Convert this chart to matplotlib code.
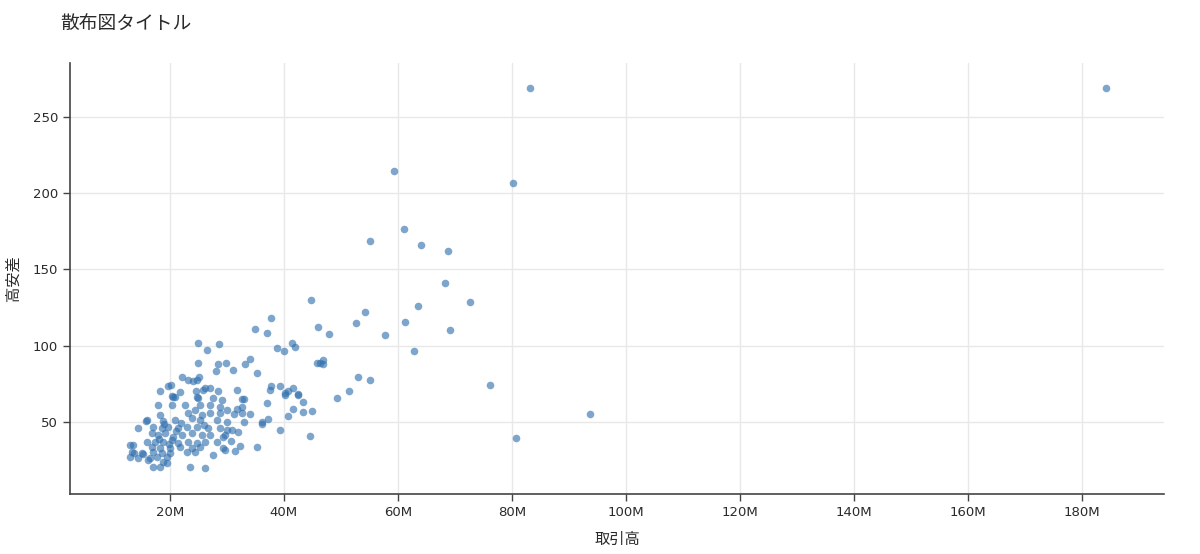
import numpy as np
import matplotlib
matplotlib.use("Agg")
import matplotlib.pyplot as plt
from matplotlib.ticker import FuncFormatter

plt.rcParams['font.family'] = ['Noto Sans CJK JP', 'DejaVu Sans']

title = "散布図タイトル"
x_label = "取引高"
y_label = "高安差"

# 取引高 (millions) and 高安差
volume_m = [
    20.5, 24.7, 27.5, 29.1, 17.9, 20.4, 22.6, 25.3, 27.0, 28.8,
    18.2, 23.2, 24.4, 25.6, 27.0, 28.8, 30.0, 16.0, 18.8, 20.9,
    23.9, 25.3, 28.2, 30.0, 14.4, 17.0, 18.6, 19.6, 21.4, 23.0,
    24.7, 26.7, 28.8, 30.0, 16.8, 17.9, 19.1, 20.5, 22.1, 23.9,
    25.6, 27.0, 29.3, 16.0, 17.4, 18.8, 20.4, 21.4, 23.2, 24.7,
    26.1, 28.2, 13.0, 13.5, 16.8, 18.2, 20.0, 21.8, 23.9, 25.3,
    29.3, 13.3, 15.1, 17.0, 18.6, 20.0, 23.0, 24.4, 13.0, 14.4,
    16.5, 17.7, 19.5, 27.5, 16.1, 18.8, 17.0, 18.2, 23.5, 26.1,
    19.5, 15.8, 13.7, 15.3, 19.0, 21.0, 22.0, 26.0, 18.0, 19.8,
    32.6, 33.0, 37.0, 40.2, 42.5, 43.3, 31.8, 32.6, 32.6, 34.0,
    31.2, 41.6, 43.3, 44.9, 40.7, 37.2, 36.1, 36.1, 33.0, 30.9,
    31.9, 39.3, 29.6, 44.6, 30.7, 32.3, 35.3, 31.4, 29.6,
    34.9, 24.9, 28.6, 26.5, 24.9, 28.4, 29.8, 33.2, 34.0, 28.1,
    31.1, 35.3, 22.1, 23.2, 24.0, 24.7, 25.1, 19.6, 20.2, 18.2,
    21.8, 24.6, 26.1, 27.0, 25.8, 28.4, 31.8, 20.4, 20.9, 24.9,
    37.0, 46.0, 52.6, 47.9, 41.4, 41.9, 38.8, 40.0, 45.8, 46.3,
    46.8, 46.8, 53.0, 37.7, 37.5, 39.3, 40.7, 40.2, 41.6, 42.5,
    51.4, 49.3, 37.7, 55.1,
    83.2, 184.2, 59.3, 80.2, 55.1, 61.1, 64.0, 68.8, 68.2, 72.6,
    63.5, 44.7, 54.2, 61.2, 69.1, 57.7, 62.8, 76.1, 93.7, 80.7,
]
high_low = [
    66.5, 66.5, 65.7, 64.4, 61.2, 61.2, 61.2, 61.2, 61.2, 59.8,
    54.6, 55.9, 57.9, 54.6, 55.9, 55.9, 57.9, 51.3, 50.7, 51.3,
    52.6, 51.3, 51.3, 50.0, 46.1, 46.7, 46.1, 46.7, 46.1, 46.7,
    46.7, 46.1, 46.1, 44.8, 42.8, 41.5, 42.8, 40.2, 41.5, 42.8,
    41.5, 41.5, 40.2, 36.9, 36.9, 36.9, 38.2, 36.2, 36.9, 36.2,
    36.9, 36.9, 34.9, 34.9, 33.6, 33.0, 33.0, 33.6, 33.0, 33.6,
    33.0, 30.3, 29.7, 30.3, 29.7, 29.7, 30.3, 30.3, 27.1, 26.4,
    26.4, 27.1, 27.1, 28.4, 25.1, 23.8, 20.5, 20.5, 20.5, 19.9,
    23.1, 50.7, 29.7, 29.1, 48.5, 44.0, 49.5, 48.0, 39.0, 35.5,
    65.1, 65.1, 62.5, 67.7, 67.7, 63.1, 58.5, 59.8, 55.9, 55.3,
    55.3, 58.5, 56.6, 57.2, 53.9, 52.0, 50.0, 48.7, 50.0, 44.8,
    43.5, 44.8, 41.5, 40.8, 37.6, 34.3, 33.6, 31.0, 31.7,
    111.0, 101.8, 101.2, 97.2, 88.7, 88.0, 88.7, 88.0, 91.3, 83.4,
    84.1, 82.1, 79.5, 77.6, 76.9, 77.6, 79.5, 73.6, 74.3, 70.4,
    69.7, 70.4, 72.3, 72.3, 71.0, 70.4, 71.0, 67.1, 66.5, 65.7,
    108.3, 112.3, 115.0, 107.7, 101.8, 99.1, 98.5, 96.6, 88.7, 88.7,
    90.7, 88.0, 79.5, 73.6, 71.0, 73.6, 70.4, 69.0, 72.3, 68.4,
    70.4, 65.7, 118.2, 77.6,
    269.0, 269.0, 214.6, 206.7, 168.6, 176.5, 166.0, 162.0, 141.0, 128.6,
    126.0, 130.0, 122.0, 115.6, 110.4, 107.0, 96.6, 74.3, 55.3, 39.5,
]

x_ticks = [20, 40, 60, 80, 100, 120, 140, 160, 180]
y_ticks = [50, 100, 150, 200, 250]

fig = plt.figure(figsize=(12, 5.54), dpi=100)
ax = fig.add_axes([0.0583, 0.1083, 0.9117, 0.778])

ax.scatter(np.array(volume_m) * 1e6, high_low, s=30, color="#2f6fad",
           alpha=0.62, linewidths=0, zorder=3)

ax.set_xlim(2.46e6, 194.4e6)
ax.set_ylim(2.8, 285.3)
ax.set_xticks([t * 1e6 for t in x_ticks])
ax.set_yticks(y_ticks)
ax.xaxis.set_major_formatter(FuncFormatter(lambda v, p: f"{v / 1e6:.0f}M"))

ax.grid(True, color="#e8e8e8", linewidth=1, zorder=0)
ax.set_axisbelow(True)
for side in ["top", "right"]:
    ax.spines[side].set_visible(False)
for side in ["left", "bottom"]:
    ax.spines[side].set_color("#444444")
    ax.spines[side].set_linewidth(1.2)
ax.tick_params(axis="both", colors="#444444", length=5, width=1,
               labelsize=9.5, labelcolor="#2a2a2a")
for lbl in ax.get_xticklabels() + ax.get_yticklabels():
    lbl.set_family("DejaVu Sans")

ax.set_xlabel(x_label, fontsize=11, color="#2a2a2a", labelpad=9)
ax.set_ylabel(y_label, fontsize=11, color="#2a2a2a", labelpad=8)
fig.text(0.05, 0.957, title, fontsize=13.5, color="#2a2a2a", va="center", ha="left")

fig.savefig("out.png", dpi=100)
